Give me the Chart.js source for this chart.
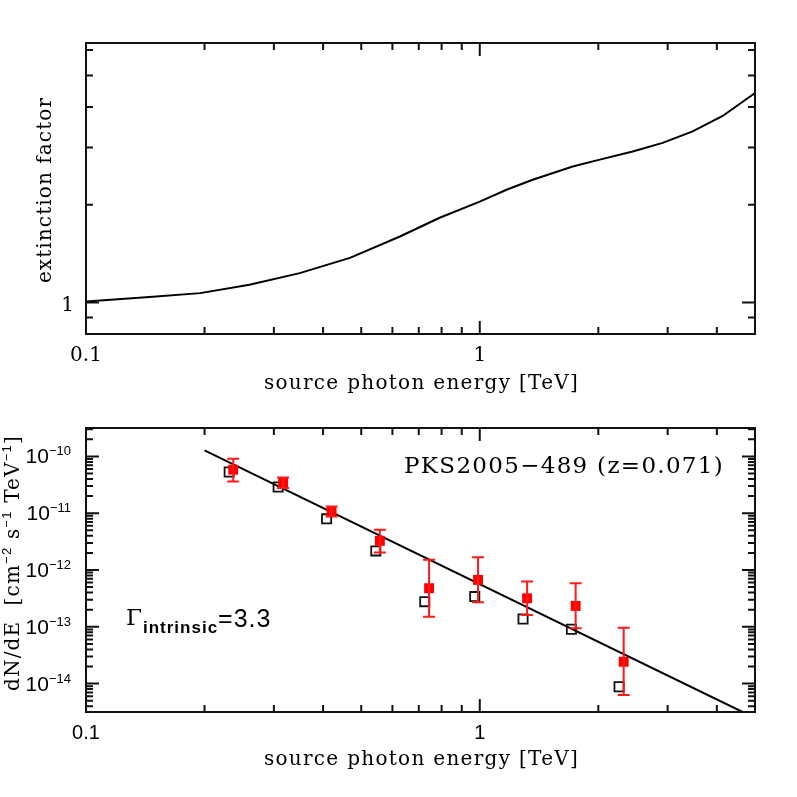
<!DOCTYPE html>
<html><head><meta charset="utf-8">
<script src="https://cdn.jsdelivr.net/npm/chart.js@4.4.1/dist/chart.umd.min.js"></script>
<style>html,body{margin:0;padding:0;background:#fff;overflow:hidden}canvas{position:absolute;left:0}</style>
</head><body>
<canvas id="topc" width="797" height="400" style="top:0"></canvas>
<canvas id="botc" width="797" height="397" style="top:400px"></canvas>
<script>
// ---------- data ----------
const extEnergy = [0.1, 0.145, 0.195, 0.26, 0.349, 0.468, 0.627, 0.791, 1.0, 1.169, 1.363, 1.722, 2.017, 2.445, 2.914, 3.472, 4.138, 5.0];
const extFactor = [1.007, 1.04, 1.069, 1.134, 1.232, 1.373, 1.597, 1.824, 2.046, 2.225, 2.389, 2.624, 2.755, 2.918, 3.102, 3.365, 3.755, 4.416];

const fitEnergy = [0.2, 4.65];
const fitFlux = [1.28e-10, 3.16e-15];

const obsEnergy = [0.231, 0.3076, 0.4083, 0.5445, 0.7251, 0.971, 1.288, 1.709, 2.258];
const obsFlux = [5.31e-11, 2.89e-11, 7.96e-12, 2.17e-12, 2.77e-13, 3.40e-13, 1.37e-13, 9.03e-14, 8.79e-15];

const intrEnergy = [0.2365, 0.3167, 0.4204, 0.5576, 0.7434, 0.990, 1.319, 1.752, 2.320];
const intrFlux = [5.83e-11, 3.48e-11, 1.07e-11, 3.26e-12, 4.78e-13, 6.69e-13, 3.18e-13, 2.33e-13, 2.42e-14];
const intrErrHi = [9.1e-11, 4.26e-11, 1.31e-11, 5.1e-12, 1.51e-12, 1.68e-12, 6.25e-13, 5.85e-13, 9.6e-14];
const intrErrLo = [3.62e-11, 2.77e-11, 8.75e-12, 2.03e-12, 1.51e-13, 2.70e-13, 1.62e-13, 9.4e-14, 6.27e-15];

// ---------- ticks ----------
const xMajorTicks = [0.1, 1];
const xTickLabels = ['0.1', '1'];
const xMinorTicks = [0.2, 0.3, 0.4, 0.5, 0.6, 0.7, 0.8, 0.9, 2, 3, 4, 5];
const topYMajorTicks = [1];
const topYTickLabels = ['1'];
const topYMinorTicks = [0.8, 0.9, 2, 3, 4, 5, 6];
const botYExponents = [-10, -11, -12, -13, -14];
const botYMajorTicks = botYExponents.map(e => Math.pow(10, e));
const botYMinorTicks = [];
for (let e = -15; e <= -10; e++) for (let k = 2; k <= 9; k++) botYMinorTicks.push(k * Math.pow(10, e));

const SERIF = '"DejaVu Serif", "Liberation Serif", serif';
const SANS = '"Liberation Sans", Arial, sans-serif';

function drawParts(ctx, parts, x, y, align, spacing) {
  ctx.save();
  if ('letterSpacing' in ctx) ctx.letterSpacing = (spacing || 0) + 'px';
  let w = 0;
  for (const p of parts) { ctx.font = p.font; p.w = ctx.measureText(p.t).width; w += p.w; }
  let cx = align === 'center' ? x - w / 2 : (align === 'right' ? x - w : x);
  ctx.textAlign = 'left'; ctx.textBaseline = 'alphabetic';
  for (const p of parts) { ctx.font = p.font; ctx.fillText(p.t, cx, y + (p.dy || 0)); cx += p.w; }
  ctx.restore();
}

const framePlugin = {
  id: 'frame',
  afterDraw(chart, args, o) {
    const ctx = chart.ctx, a = chart.chartArea, xs = chart.scales.x, ys = chart.scales.y;
    ctx.save();
    ctx.strokeStyle = '#111'; ctx.lineWidth = 2; ctx.lineCap = 'butt';
    ctx.strokeRect(a.left, a.top, a.right - a.left, a.bottom - a.top);
    ctx.beginPath();
    const tickX = (v, len) => { const p = xs.getPixelForValue(v);
      ctx.moveTo(p, a.bottom); ctx.lineTo(p, a.bottom - len); ctx.moveTo(p, a.top); ctx.lineTo(p, a.top + len); };
    const tickY = (v, len) => { const p = ys.getPixelForValue(v);
      if (p < a.top - 0.5 || p > a.bottom + 0.5) return;
      ctx.moveTo(a.left, p); ctx.lineTo(a.left + len, p); ctx.moveTo(a.right, p); ctx.lineTo(a.right - len, p); };
    o.xMajor.forEach(v => tickX(v, 13)); o.xMinor.forEach(v => tickX(v, 7));
    o.yMajor.forEach(v => tickY(v, 13)); o.yMinor.forEach(v => tickY(v, 7));
    ctx.stroke();
    ctx.fillStyle = '#000';
    o.xMajor.forEach((v, i) => drawParts(ctx, [{t: o.xLabels[i], font: o.xLabelFont}], xs.getPixelForValue(v), a.bottom + o.xLabelDy, 'center', 0));
    if (o.extra) o.extra(ctx, chart);
    ctx.restore();
  }
};

const errPlugin = {
  id: 'errbars',
  afterDatasetsDraw(chart) {
    const ctx = chart.ctx, xs = chart.scales.x, ys = chart.scales.y;
    ctx.save();
    ctx.strokeStyle = '#ff1a1a'; ctx.lineWidth = 2;
    ctx.beginPath();
    for (let i = 0; i < intrEnergy.length; i++) {
      const px = xs.getPixelForValue(intrEnergy[i]);
      const pt = ys.getPixelForValue(intrErrHi[i]), pb = ys.getPixelForValue(intrErrLo[i]);
      ctx.moveTo(px, pt); ctx.lineTo(px, pb);
      ctx.moveTo(px - 6, pt); ctx.lineTo(px + 6, pt);
      ctx.moveTo(px - 6, pb); ctx.lineTo(px + 6, pb);
    }
    ctx.stroke();
    ctx.restore();
  }
};

const zip = (xa, ya) => xa.map((x, i) => ({x, y: ya[i]}));

// ---------- top chart ----------
new Chart(document.getElementById('topc'), {
  type: 'scatter',
  data: { datasets: [{
    data: zip(extEnergy, extFactor), showLine: true, borderColor: '#000', borderWidth: 2,
    pointRadius: 0, tension: 0, fill: false
  }]},
  options: {
    responsive: false, animation: false, devicePixelRatio: 1,
    layout: { padding: { left: 86, right: 42, top: 43, bottom: 66 } },
    plugins: { legend: { display: false }, tooltip: { enabled: false },
      frame: {
        xMajor: xMajorTicks, xMinor: xMinorTicks, yMajor: topYMajorTicks, yMinor: topYMinorTicks,
        xLabels: xTickLabels, xLabelFont: '20px ' + SERIF, xLabelDy: 27,
        extra(ctx, chart) {
          const a = chart.chartArea, ys = chart.scales.y;
          topYMajorTicks.forEach((v, i) => drawParts(ctx, [{t: topYTickLabels[i], font: '20px ' + SERIF}], a.left - 12, ys.getPixelForValue(v) + 8, 'right', 0));
          drawParts(ctx, [{t: 'source photon energy [TeV]', font: '20px ' + SERIF}], (a.left + a.right) / 2 + 1, 389, 'center', 1.3);
          ctx.save(); ctx.translate(51, 190); ctx.rotate(-Math.PI / 2);
          drawParts(ctx, [{t: 'extinction factor', font: '20px ' + SERIF}], 0, 0, 'center', 1.1);
          ctx.restore();
        }
      }
    },
    scales: {
      x: { type: 'logarithmic', min: 0.1, max: 5, display: false, bounds: 'data' },
      y: { type: 'logarithmic', min: 0.8, max: 6.3, display: false, bounds: 'data' }
    }
  },
  plugins: [framePlugin]
});

// ---------- bottom chart ----------
new Chart(document.getElementById('botc'), {
  type: 'scatter',
  data: { datasets: [
    { label: 'intrinsic', data: zip(intrEnergy, intrFlux), pointStyle: 'rect', pointRadius: 7,
      backgroundColor: '#ff0000', borderColor: '#ff0000', borderWidth: 0 },
    { label: 'observed', data: zip(obsEnergy, obsFlux), pointStyle: 'rect', pointRadius: 6.5,
      backgroundColor: 'rgba(0,0,0,0)', borderColor: '#111', borderWidth: 1.8 },
    { label: 'fit', data: zip(fitEnergy, fitFlux), showLine: true, borderColor: '#000', borderWidth: 2,
      pointRadius: 0, tension: 0 }
  ]},
  options: {
    responsive: false, animation: false, devicePixelRatio: 1,
    layout: { padding: { left: 86, right: 42, top: 28, bottom: 85 } },
    plugins: { legend: { display: false }, tooltip: { enabled: false },
      frame: {
        xMajor: xMajorTicks, xMinor: xMinorTicks, yMajor: botYMajorTicks, yMinor: botYMinorTicks,
        xLabels: xTickLabels, xLabelFont: '20px ' + SANS, xLabelDy: 27,
        extra(ctx, chart) {
          const a = chart.chartArea, ys = chart.scales.y;
          botYMajorTicks.forEach((v, i) => {
            const p = ys.getPixelForValue(v);
            drawParts(ctx, [{t: '10', font: '21px ' + SANS}, {t: '\u2212' + Math.abs(botYExponents[i]), font: '13px ' + SANS, dy: -8}], 71, p + 7, 'right', 0);
          });
          drawParts(ctx, [{t: 'PKS2005\u2212489 (z=0.071)', font: '23px ' + SERIF}], 724, 73, 'right', 1.3);
          drawParts(ctx, [{t: '\u0393', font: '23px ' + SERIF}, {t: 'intrinsic', font: 'bold 17px ' + SANS, dy: 8}, {t: '=3.3', font: '25px ' + SANS, dy: 2}], 126, 225, 'left', 1);
          drawParts(ctx, [{t: 'source photon energy [TeV]', font: '20px ' + SERIF}], (a.left + a.right) / 2 + 1, 365, 'center', 1.3);
          ctx.save(); ctx.translate(19, 163); ctx.rotate(-Math.PI / 2);
          const sup = '13px ' + SANS, base = '20px ' + SERIF;
          drawParts(ctx, [{t: 'dN/dE  [cm', font: base}, {t: '\u22122', font: sup, dy: -8}, {t: ' s', font: base}, {t: '\u22121', font: sup, dy: -8}, {t: ' TeV', font: base}, {t: '\u22121', font: sup, dy: -8}, {t: ']', font: base}], 0, 0, 'center', 1.2);
          ctx.restore();
        }
      }
    },
    scales: {
      x: { type: 'logarithmic', min: 0.1, max: 5, display: false, bounds: 'data' },
      y: { type: 'logarithmic', min: 3.1623e-15, max: 3.1623e-10, display: false, bounds: 'data' }
    }
  },
  plugins: [errPlugin, framePlugin]
});
</script>
</body></html>
